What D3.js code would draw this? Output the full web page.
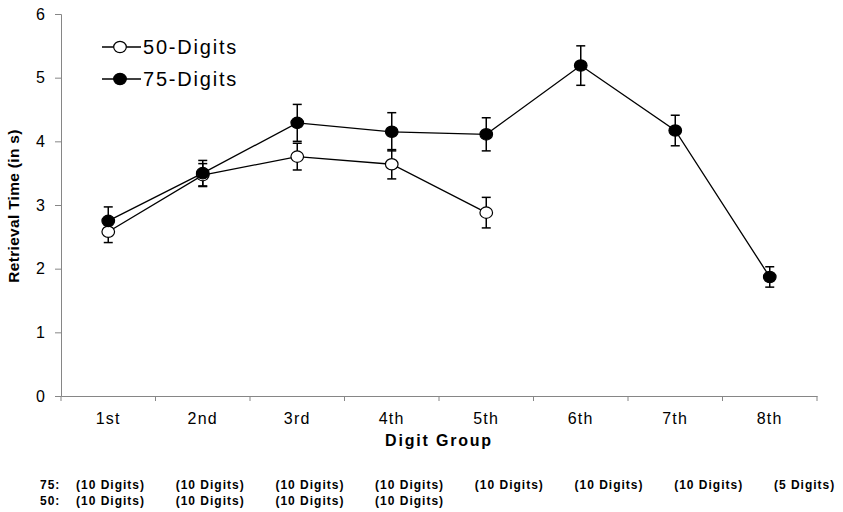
<!DOCTYPE html>
<html><head><meta charset="utf-8">
<script src="https://cdn.jsdelivr.net/npm/d3@7"></script>
<style>body{margin:0;background:#fff}svg{display:block;font-family:"Liberation Sans",Arial,sans-serif}</style>
</head><body><svg id="c" width="843" height="512"></svg>
<script>
const categories = ["1st","2nd","3rd","4th","5th","6th","7th","8th"];
const yTicks = [0,1,2,3,4,5,6];
const series50 = [2.58, 3.47, 3.76, 3.64, 2.88];
const err50    = [0.17, 0.18, 0.21, 0.23, 0.24];
const series75 = [2.75, 3.50, 4.29, 4.15, 4.11, 5.19, 4.17, 1.87];
const err75    = [0.22, 0.20, 0.29, 0.30, 0.26, 0.31, 0.24, 0.16];
const legendLabels = ["50-Digits", "75-Digits"];
const rowLabels = ["75:", "50:"];
const digits75 = ["(10 Digits)","(10 Digits)","(10 Digits)","(10 Digits)","(10 Digits)","(10 Digits)","(10 Digits)","(5 Digits)"];
const digits50 = ["(10 Digits)","(10 Digits)","(10 Digits)","(10 Digits)"];

const svg = d3.select("#c");
const L = 61, R = 817, T = 14, B = 396;
const x = d3.scaleBand().domain(categories).range([L, R]);
const y = d3.scaleLinear().domain([0, 6]).range([B, T]);
const axisColor = "#868686";

// Y axis
const ya = svg.append("g").attr("transform", `translate(${L},0)`)
  .call(d3.axisLeft(y).tickValues(yTicks).tickSize(6).tickPadding(10).tickFormat(d3.format("d")));
ya.select(".domain").attr("stroke", axisColor);
ya.selectAll(".tick line").attr("stroke", axisColor);
ya.selectAll(".tick text").attr("font-size", 16).attr("fill", "#000").attr("font-family", "Liberation Sans, Arial");

// X axis
const xa = svg.append("g").attr("transform", `translate(0,${B})`)
  .call(d3.axisBottom(x).tickSize(0).tickPadding(17));
xa.select(".domain").attr("stroke", axisColor);
xa.selectAll(".tick text").attr("font-size", 16).attr("fill", "#000").attr("letter-spacing", "1.3px").attr("font-family", "Liberation Sans, Arial");
const bounds = categories.map(c => x(c)).concat([x(categories[categories.length-1]) + x.bandwidth()]);
svg.append("g").selectAll("line").data(bounds).join("line")
  .attr("x1", d => d).attr("x2", d => d).attr("y1", B).attr("y2", B + 5)
  .attr("stroke", axisColor);

// Axis titles
svg.append("text").attr("transform", `translate(19,${206}) rotate(-90)`)
  .attr("text-anchor", "middle").attr("font-weight", "bold").attr("font-size", 15.5)
  .attr("letter-spacing", "0.3px")
  .text("Retrieval Time (in s)");
svg.append("text").attr("x", 439).attr("y", 446).attr("text-anchor", "middle")
  .attr("font-weight", "bold").attr("font-size", 16).attr("letter-spacing", "1.8px")
  .text("Digit Group");

const cx = (i) => x(categories[i]) + x.bandwidth() / 2;

function drawLines(vals, errs) {
  const g = svg.append("g");
  const line = d3.line().x((d, i) => cx(i)).y(d => y(d));
  g.append("path").datum(vals).attr("d", line).attr("fill", "none").attr("stroke", "#000").attr("stroke-width", 1.3);
  const eb = g.selectAll("g.eb").data(vals).join("g");
  eb.append("line").attr("x1", (d,i) => cx(i)).attr("x2", (d,i) => cx(i))
    .attr("y1", (d,i) => y(d + errs[i])).attr("y2", (d,i) => y(d - errs[i]))
    .attr("stroke", "#000").attr("stroke-width", 1.5);
  [1, -1].forEach(s => {
    eb.append("line").attr("x1", (d,i) => cx(i) - 4.5).attr("x2", (d,i) => cx(i) + 4.5)
      .attr("y1", (d,i) => y(d + s*errs[i])).attr("y2", (d,i) => y(d + s*errs[i]))
      .attr("stroke", "#000").attr("stroke-width", 1.5);
  });
}
function drawMarkers(vals, fill) {
  svg.append("g").selectAll("ellipse").data(vals).join("ellipse")
    .attr("cx", (d,i) => cx(i)).attr("cy", d => y(d)).attr("rx", 6.3).attr("ry", 5.7)
    .attr("fill", fill).attr("stroke", "#000").attr("stroke-width", 1.2);
}
drawLines(series50, err50);
drawLines(series75, err75);
drawMarkers(series50, "#fff");
drawMarkers(series75, "#000");

// Legend
const fills = ["#fff", "#000"];
const lg = svg.append("g");
legendLabels.forEach((lab, i) => {
  const yy = 47 + i * 32;
  lg.append("line").attr("x1", 102).attr("x2", 141).attr("y1", yy).attr("y2", yy).attr("stroke", "#000").attr("stroke-width", 1.3);
  lg.append("ellipse").attr("cx", 120).attr("cy", yy).attr("rx", 6.3).attr("ry", 5.7).attr("fill", fills[i]).attr("stroke", "#000").attr("stroke-width", 1.2);
  lg.append("text").attr("x", 143).attr("y", yy + 7).attr("font-size", 20).attr("letter-spacing", "1.8px").text(lab);
});

// Bottom digit-count rows
const rowX = d3.scaleLinear().domain([0, 1]).range([76, 175.7]);
[digits75, digits50].forEach((arr, r) => {
  const yy = 489 + r * 16;
  svg.append("text").attr("x", 40).attr("y", yy).attr("font-size", 12).attr("font-weight", "bold").attr("letter-spacing", "1px").text(rowLabels[r]);
  svg.append("g").selectAll("text").data(arr).join("text")
    .attr("x", (d, i) => rowX(i)).attr("y", yy)
    .attr("font-size", 12).attr("font-weight", "bold").attr("letter-spacing", "1px").text(d => d);
});
</script></body></html>
